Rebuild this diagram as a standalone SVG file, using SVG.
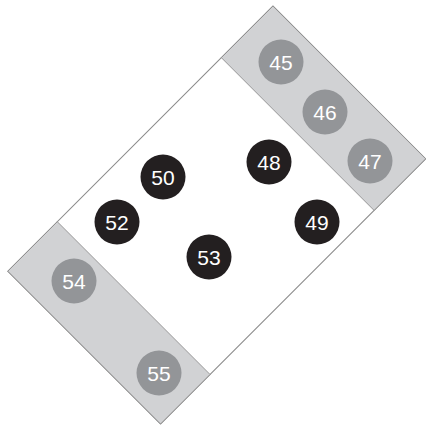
<svg xmlns="http://www.w3.org/2000/svg" width="426" height="427" viewBox="0 0 426 427">
<style>
.frame{fill:#fff;stroke:#8a8a8a;stroke-width:1}
.band{fill:#d1d2d4;stroke:#8a8a8a;stroke-width:0.8}
.g circle{fill:#939598}
.b circle{fill:#231f20}
text{font-family:"Liberation Sans",Arial,sans-serif;font-size:21px;fill:#fff;text-anchor:middle}
</style>
<rect width="426" height="427" fill="#fff"/>
<g id="table" transform="translate(216.75,215) rotate(-45)">
<rect class="frame" x="-187.5" y="-108" width="375" height="216"/>
<rect class="band" x="114.5" y="-108" width="73" height="216"/>
<rect class="band" x="-187.5" y="-108" width="70" height="216"/>
</g>
<g id="n45" class="g"><circle cx="281" cy="62" r="22.5"/><text x="281" y="69.5">45</text></g>
<g id="n46" class="g"><circle cx="325" cy="112" r="22.5"/><text x="325" y="119.5">46</text></g>
<g id="n47" class="g"><circle cx="370" cy="161" r="22.5"/><text x="370" y="168.5">47</text></g>
<g id="n48" class="b"><circle cx="269" cy="162" r="22.5"/><text x="269" y="169.5">48</text></g>
<g id="n49" class="b"><circle cx="317" cy="222" r="22.5"/><text x="317" y="229.5">49</text></g>
<g id="n50" class="b"><circle cx="163" cy="177" r="22.5"/><text x="163" y="184.5">50</text></g>
<g id="n52" class="b"><circle cx="117" cy="222" r="22.5"/><text x="117" y="229.5">52</text></g>
<g id="n53" class="b"><circle cx="209" cy="257" r="22.5"/><text x="209" y="264.5">53</text></g>
<g id="n54" class="g"><circle cx="74" cy="281" r="22.5"/><text x="74" y="288.5">54</text></g>
<g id="n55" class="g"><circle cx="159" cy="373" r="22.5"/><text x="159" y="380.5">55</text></g>
<g id="connectors"></g>
</svg>
